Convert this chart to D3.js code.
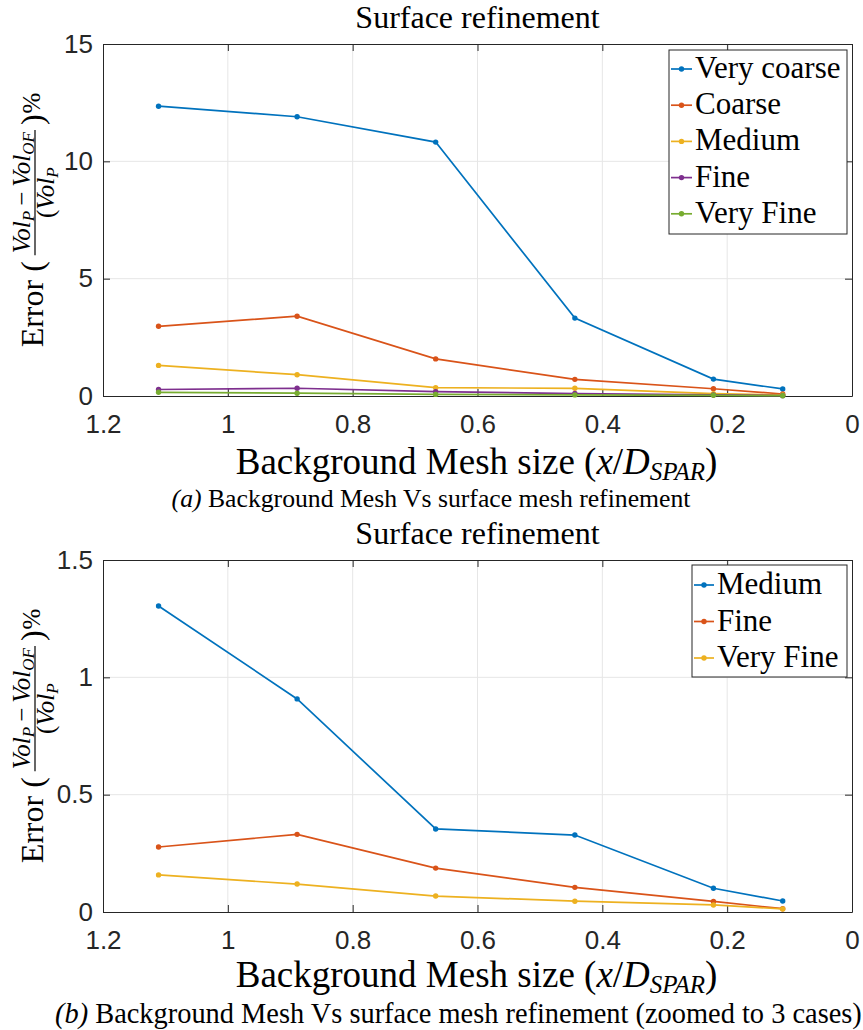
<!DOCTYPE html>
<html>
<head>
<meta charset="utf-8">
<script src="https://cdn.jsdelivr.net/npm/d3@7"></script>
<style>
  body { margin: 0; background: #fff; }
  svg { display: block; }
</style>
</head>
<body>
<svg id="chart" width="863" height="1030"></svg>
<script>
// mesh sizes (x / D_SPAR)
let meshSize = [1.111, 0.889, 0.667, 0.444, 0.222, 0.111]
let xTicks = [1.2, 1, 0.8, 0.6, 0.4, 0.2, 0]

// error % for each surface refinement level
let veryCoarse = [12.35, 11.9, 10.82, 3.32, 0.72, 0.30]
let coarse = [2.97, 3.40, 1.58, 0.71, 0.31, 0.085]
let medium = [1.304, 0.908, 0.354, 0.328, 0.101, 0.047]
let fine = [0.277, 0.331, 0.187, 0.105, 0.045, 0.014]
let veryFine = [0.158, 0.119, 0.068, 0.046, 0.030, 0.013]

let namesA = ["Very coarse", "Coarse", "Medium", "Fine", "Very Fine"]
let namesB = ["Medium", "Fine", "Very Fine"]
let yTicksA = [0, 5, 10, 15]
let yTicksB = [0, 0.5, 1, 1.5]

let colors = ["#0072BD", "#D95319", "#EDB120", "#7E2F8E", "#77AC30"]
let ink = "#262626"
let serif = "'Liberation Serif', 'Times New Roman', serif"
let sans = "'Liberation Sans', Arial, Helvetica, sans-serif"

let svg = d3.select("#chart")
svg.append("rect").attr("width", 863).attr("height", 1030).attr("fill", "#fff")

function yLabel(cx, cy) {
  let g = svg.append("g").attr("transform", `translate(${cx},${cy}) rotate(-90)`)
  let inner = g.append("g").attr("font-family", serif).attr("fill", "#000")
  let pos = 0
  let t = inner.append("text").attr("x", pos).attr("font-size", 32).text("Error")
  pos += t.node().getComputedTextLength() + 8
  t = inner.append("text").attr("x", pos).attr("font-size", 32).text("(")
  pos += t.node().getComputedTextLength() + 6

  // fraction
  let num = inner.append("text").attr("font-size", 25).attr("text-anchor", "middle").attr("y", -13)
  num.append("tspan").attr("font-style", "italic").text("Vol")
  num.append("tspan").attr("font-style", "italic").attr("font-size", 17).attr("dy", 4).text("P")
  num.append("tspan").attr("dy", -4).text("\u2009\u2212\u2009")
  num.append("tspan").attr("font-style", "italic").text("Vol")
  num.append("tspan").attr("font-style", "italic").attr("font-size", 17).attr("dy", 4).text("OF")
  let den = inner.append("text").attr("font-size", 25).attr("text-anchor", "middle").attr("y", 11)
  den.append("tspan").text("(")
  den.append("tspan").attr("font-style", "italic").text("Vol")
  den.append("tspan").attr("font-style", "italic").attr("font-size", 17).attr("dy", 4).text("P")
  let fw = Math.max(num.node().getComputedTextLength(), den.node().getComputedTextLength()) + 4
  num.attr("x", pos + fw / 2)
  den.attr("x", pos + fw / 2)
  inner.append("line").attr("x1", pos).attr("x2", pos + fw).attr("y1", -8).attr("y2", -8)
    .attr("stroke", "#000").attr("stroke-width", 1.2)
  pos += fw + 5

  t = inner.append("text").attr("x", pos).attr("font-size", 32).text(")")
  pos += t.node().getComputedTextLength() + 1
  t = inner.append("text").attr("x", pos).attr("y", -3).attr("font-size", 25).text("%")
  pos += t.node().getComputedTextLength()
  inner.attr("transform", `translate(${-pos / 2},0)`)
}

function panel(o) {
  let left = 103, right = 852
  let x = d3.scaleLinear().domain([1.2, 0]).range([left, right])
  let y = d3.scaleLinear().domain([0, o.yMax]).range([o.bottom, o.top])

  // grid
  let grid = svg.append("g").attr("stroke", "#e6e6e6").attr("stroke-width", 1)
  grid.selectAll(".gx").data(xTicks.slice(1, -1)).enter().append("line")
    .attr("x1", d => x(d)).attr("x2", d => x(d))
    .attr("y1", o.top).attr("y2", o.bottom)
  grid.selectAll(".gy").data(o.yTicks.slice(1, -1)).enter().append("line")
    .attr("x1", left).attr("x2", right)
    .attr("y1", d => y(d)).attr("y2", d => y(d))

  // axes, ticks pointing inward on all four sides
  let fmt = d => String(+d.toFixed(1))
  let xAxis = svg.append("g").attr("transform", `translate(0,${o.bottom})`)
    .call(d3.axisBottom(x).tickValues(xTicks).tickFormat(fmt).tickSizeInner(-7).tickSizeOuter(0).tickPadding(19))
  let yAxis = svg.append("g").attr("transform", `translate(${left},0)`)
    .call(d3.axisLeft(y).tickValues(o.yTicks).tickFormat(fmt).tickSizeInner(-7).tickSizeOuter(0).tickPadding(10))
  let topAxis = svg.append("g").attr("transform", `translate(0,${o.top})`)
    .call(d3.axisTop(x).tickValues(xTicks).tickFormat("").tickSizeInner(-7).tickSizeOuter(0))
  let rightAxis = svg.append("g").attr("transform", `translate(${right},0)`)
    .call(d3.axisRight(y).tickValues(o.yTicks).tickFormat("").tickSizeInner(-7).tickSizeOuter(0))
  for (let a of [xAxis, yAxis, topAxis, rightAxis]) {
    a.attr("font-family", sans).attr("font-size", 26)
    a.selectAll("path, line").attr("stroke", ink)
    a.selectAll("text").attr("fill", ink)
  }

  // series
  let line = d3.line().x((d, i) => x(meshSize[i])).y(d => y(d))
  o.series.forEach((s, k) => {
    svg.append("path").datum(s).attr("d", line)
      .attr("fill", "none").attr("stroke", o.colors[k]).attr("stroke-width", 1.7)
    svg.append("g").selectAll("circle").data(s).enter().append("circle")
      .attr("cx", (d, i) => x(meshSize[i])).attr("cy", d => y(d)).attr("r", 2.7)
      .attr("fill", o.colors[k])
  })

  // title
  svg.append("text").attr("x", (left + right) / 2).attr("y", o.top - 16)
    .attr("text-anchor", "middle").attr("font-family", serif).attr("font-size", 32)
    .text("Surface refinement")

  // x label
  let xl = svg.append("text").attr("x", (left + right) / 2 - 1).attr("y", o.xlabelY)
    .attr("text-anchor", "middle").attr("font-family", serif).attr("font-size", 37)
  xl.append("tspan").text("Background Mesh size (")
  xl.append("tspan").attr("font-style", "italic").text("x")
  xl.append("tspan").text("/")
  xl.append("tspan").attr("font-style", "italic").text("D")
  xl.append("tspan").attr("font-style", "italic").attr("font-size", 25).attr("dy", 6).text("SPAR")
  xl.append("tspan").attr("dy", -6).text(")")

  yLabel(43, (o.top + o.bottom) / 2)

  // legend
  let L = o.legend
  svg.append("rect").attr("x", L.x0).attr("y", L.y0).attr("width", L.x1 - L.x0).attr("height", L.y1 - L.y0)
    .attr("fill", "#fff").attr("stroke", ink).attr("stroke-width", 1)
  o.names.forEach((nm, k) => {
    let cy = L.row0 + k * L.step
    svg.append("line").attr("x1", L.lx0).attr("x2", L.lx1).attr("y1", cy).attr("y2", cy)
      .attr("stroke", o.colors[k]).attr("stroke-width", 1.7)
    svg.append("circle").attr("cx", (L.lx0 + L.lx1) / 2).attr("cy", cy).attr("r", 2.7).attr("fill", o.colors[k])
    svg.append("text").attr("x", L.tx).attr("y", cy + 9).attr("font-family", serif).attr("font-size", 31)
      .text(nm)
  })

  // caption
  let cap = svg.append("text").attr("x", o.capX).attr("y", o.capY).attr("text-anchor", o.capAnchor)
    .attr("font-family", serif).attr("font-size", o.capSize)
  cap.append("tspan").attr("font-style", "italic").text(o.capTag)
  cap.append("tspan").text(" " + o.capText)
}

panel({
  top: 44, bottom: 396, yMax: 15, yTicks: yTicksA,
  series: [veryCoarse, coarse, medium, fine, veryFine], names: namesA, colors: colors,
  legend: { x0: 669, y0: 50, x1: 847, y1: 234, row0: 69, step: 36.2, lx0: 671, lx1: 692, tx: 695 },
  xlabelY: 474, capX: 431, capY: 507, capAnchor: "middle", capSize: 25.7,
  capTag: "(a)", capText: "Background Mesh Vs surface mesh refinement"
})

panel({
  top: 560, bottom: 912, yMax: 1.5, yTicks: yTicksB,
  series: [medium, fine, veryFine], names: namesB, colors: colors.slice(0, 3),
  legend: { x0: 692, y0: 565, x1: 847, y1: 677, row0: 585, step: 36.5, lx0: 694, lx1: 714, tx: 717 },
  xlabelY: 987, capX: 55, capY: 1023, capAnchor: "start", capSize: 28.4,
  capTag: "(b)", capText: "Background Mesh Vs surface mesh refinement (zoomed to 3 cases)"
})
</script>
</body>
</html>
